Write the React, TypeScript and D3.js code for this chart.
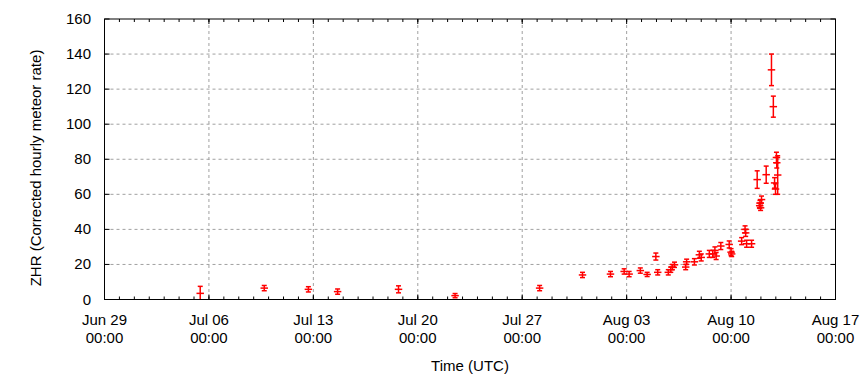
import React from "react";
import * as d3 from "d3";

const times = [
  "2016-07-05 10:00", "2016-07-09 17:00", "2016-07-12 16:00", "2016-07-14 15:00",
  "2016-07-18 17:00", "2016-07-22 12:00", "2016-07-28 04:00", "2016-07-31 01:00",
  "2016-08-01 22:00", "2016-08-02 20:00", "2016-08-03 04:00", "2016-08-03 22:00",
  "2016-08-04 09:00", "2016-08-04 23:00", "2016-08-05 02:00", "2016-08-05 19:00",
  "2016-08-05 23:00", "2016-08-06 01:30", "2016-08-06 05:00", "2016-08-06 23:00",
  "2016-08-07 00:30", "2016-08-07 13:00", "2016-08-07 21:00", "2016-08-08 00:00",
  "2016-08-08 13:00", "2016-08-08 18:30", "2016-08-08 22:00", "2016-08-09 00:00",
  "2016-08-09 07:30", "2016-08-09 21:00", "2016-08-10 00:00", "2016-08-10 01:00",
  "2016-08-10 17:00", "2016-08-10 22:30", "2016-08-10 23:30", "2016-08-11 01:00",
  "2016-08-11 09:00", "2016-08-11 18:00", "2016-08-11 22:00", "2016-08-11 22:30",
  "2016-08-11 23:30", "2016-08-12 01:00", "2016-08-12 08:30", "2016-08-12 17:00",
  "2016-08-12 20:00", "2016-08-12 22:00", "2016-08-12 23:30", "2016-08-13 01:00",
  "2016-08-13 01:30", "2016-08-13 03:00",
];
const zhr = [
  3.5, 6.5, 5.8, 4.5, 5.8, 2.2, 6.5, 14, 14.5, 16, 14.5, 16.5, 14.3, 24.5, 15.5, 15.5,
  17, 18.5, 19.8, 18.5, 21.5, 21.5, 25.5, 24, 26, 26, 28, 24.8, 30.5, 31.4, 27, 26,
  33.3, 40, 38, 31.8, 31.8, 68.4, 53.5, 55, 52.3, 57, 71.2, 131, 110, 66.5, 63, 81,
  78, 71,
];
const zhrErr = [
  4, 1.5, 1.5, 1.5, 2, 1.2, 1.5, 1.5, 1.5, 1.5, 1.5, 1.5, 1.2, 2, 1.5, 1.5,
  1.5, 1.5, 1.5, 1.5, 1.5, 1.8, 2, 2, 2, 2, 2, 2, 2, 2, 2, 1.5,
  2, 2, 2, 2, 2, 5, 1.5, 1.5, 1.5, 2, 4.9, 9, 6, 3, 3, 3,
  3, 11,
];
const xTickDates = ["2016-06-29", "2016-07-06", "2016-07-13", "2016-07-20", "2016-07-27", "2016-08-03", "2016-08-10", "2016-08-17"];
const yTicks = [0, 20, 40, 60, 80, 100, 120, 140, 160];
const xHalfHours = 6;

const W = 860, H = 380;
const M = { left: 104.5, right: 835.5, top: 19, bottom: 299.5 };
const FONT = "'Liberation Sans', Arial, sans-serif";
const FS = 15;

export default function App() {
  const parse = d3.utcParse("%Y-%m-%d %H:%M");
  const parseDay = d3.utcParse("%Y-%m-%d");
  const x = d3.scaleUtc()
    .domain([parseDay("2016-06-29")!, parseDay("2016-08-17")!])
    .range([M.left, M.right]);
  const y = d3.scaleLinear().domain([0, 160]).range([M.bottom, M.top]);
  const majors = xTickDates.map((s) => parseDay(s)!);
  const minors = d3.utcDay.range(x.domain()[0], d3.utcDay.offset(x.domain()[1], 1));
  const fmtA = d3.utcFormat("%b %d");
  const fmtB = d3.utcFormat("%H:%M");
  const pts = times.map((t, i) => ({ t: parse(t)!, v: zhr[i], e: zhrErr[i] }));
  const clipY = (v: number) => Math.min(M.bottom, Math.max(M.top, v));

  return (
    <svg width={W} height={H} style={{ position: "absolute", left: 0, top: 0, background: "#fff" }}
      fontFamily={FONT}>
      <rect x={0} y={0} width={W} height={H} fill="#fff" />
      {yTicks.slice(1, -1).map((t) => (
        <line key={"gy" + t} x1={M.left} x2={M.right} y1={y(t)} y2={y(t)}
          stroke="#a0a0a0" strokeWidth={1} strokeDasharray="3,3" />
      ))}
      {majors.slice(1, -1).map((d, i) => (
        <line key={"gx" + i} x1={x(d)} x2={x(d)} y1={M.top} y2={M.bottom}
          stroke="#a0a0a0" strokeWidth={1} strokeDasharray="3,3" />
      ))}
      {minors.map((d, i) => (
        <g key={"mx" + i}>
          <line x1={x(d)} x2={x(d)} y1={M.bottom} y2={M.bottom - 3} stroke="#000" />
          <line x1={x(d)} x2={x(d)} y1={M.top} y2={M.top + 3} stroke="#000" />
        </g>
      ))}
      {majors.map((d, i) => (
        <g key={"Mx" + i}>
          <line x1={x(d)} x2={x(d)} y1={M.bottom} y2={M.bottom - 5} stroke="#000" />
          <line x1={x(d)} x2={x(d)} y1={M.top} y2={M.top + 5} stroke="#000" />
          <text x={x(d)} y={324.5} fontSize={FS} textAnchor="middle" fill="#000">{fmtA(d)}</text>
          <text x={x(d)} y={343} fontSize={FS} textAnchor="middle" fill="#000">{fmtB(d)}</text>
        </g>
      ))}
      {yTicks.map((t) => (
        <g key={"yt" + t}>
          <line x1={M.left} x2={M.left + 5} y1={y(t)} y2={y(t)} stroke="#000" />
          <line x1={M.right} x2={M.right - 5} y1={y(t)} y2={y(t)} stroke="#000" />
          <text x={91} y={y(t) + 5} fontSize={FS} textAnchor="end" fill="#000">{t}</text>
        </g>
      ))}
      <g stroke="#ff0000" strokeWidth={1.5} fill="none">
        {pts.map((p, i) => {
          const cx = x(p.t);
          const cy = y(p.v);
          const y1 = y(p.v + p.e);
          const y0 = y(p.v - p.e);
          const xl = x(d3.utcHour.offset(p.t, -xHalfHours));
          const xr = x(d3.utcHour.offset(p.t, xHalfHours));
          return (
            <g key={"p" + i}>
              <line x1={cx} x2={cx} y1={clipY(y0)} y2={clipY(y1)} />
              <line x1={cx - 2.5} x2={cx + 2.5} y1={y1} y2={y1} />
              {y0 <= M.bottom && <line x1={cx - 2.5} x2={cx + 2.5} y1={y0} y2={y0} />}
              <line x1={xl} x2={xr} y1={cy} y2={cy} />
            </g>
          );
        })}
      </g>
      <rect x={M.left} y={M.top} width={M.right - M.left} height={M.bottom - M.top}
        fill="none" stroke="#000" strokeWidth={1} />
      <text x={470} y={371} fontSize={FS} textAnchor="middle" fill="#000">Time (UTC)</text>
      <text transform={`translate(40.5,168) rotate(-90)`} fontSize={FS}
        textAnchor="middle" fill="#000">ZHR (Corrected hourly meteor rate)</text>
    </svg>
  );
}
